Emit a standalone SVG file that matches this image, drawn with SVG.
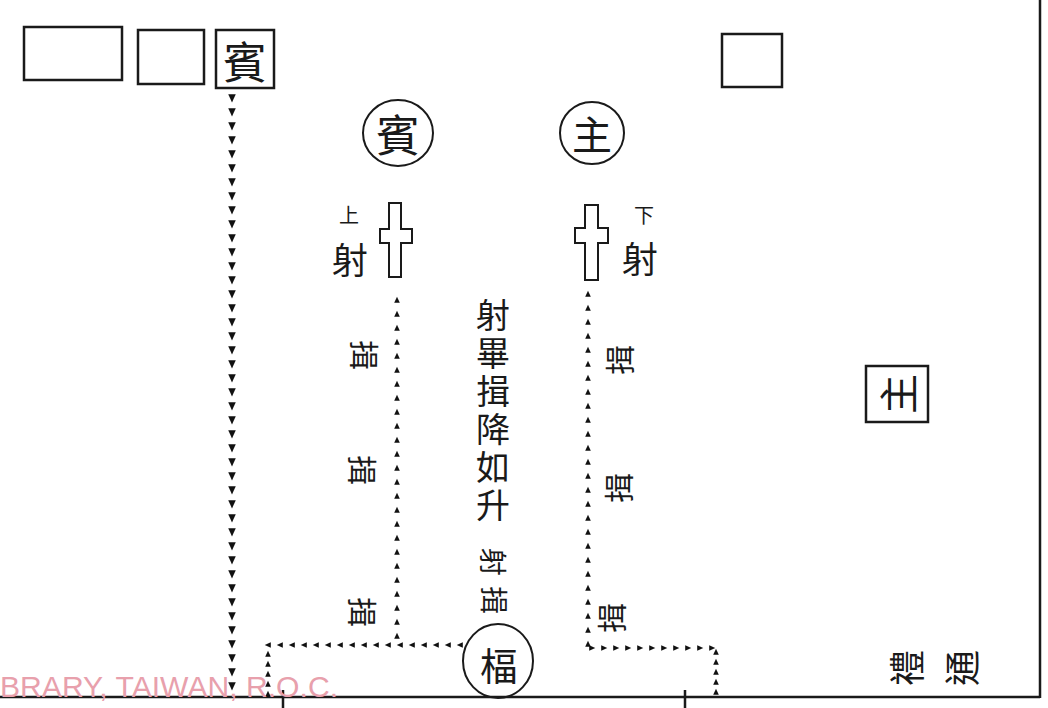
<svg xmlns="http://www.w3.org/2000/svg" width="1048" height="708" viewBox="0 0 1048 708">
<style>
.box{fill:none;stroke:#1a1a1a;stroke-width:2.5}
.ring{fill:none;stroke:#1a1a1a;stroke-width:2}
.ch{font-family:"Noto Sans CJK TC","Noto Sans CJK SC",serif;fill:#1a1a1a;text-anchor:middle;dominant-baseline:central}
.vt{font-family:"Noto Sans CJK TC","Noto Sans CJK SC",serif;fill:#1a1a1a;writing-mode:vertical-rl;text-anchor:start}
.flow{fill:none;stroke:none}
.frame{stroke:#1a1a1a;stroke-width:2.5;fill:none}
</style>
<defs>
<marker id="tri" viewBox="-4 -4 8 8" markerWidth="10" markerHeight="10" markerUnits="userSpaceOnUse" orient="auto"><path d="M-3,-3 L3.5,0 L-3,3 z" fill="#111"/></marker>
<marker id="trs" viewBox="-4 -4 8 8" markerWidth="7.5" markerHeight="7.5" markerUnits="userSpaceOnUse" orient="auto"><path d="M-3,-3 L3.5,0 L-3,3 z" fill="#111"/></marker>
</defs>
<rect width="1048" height="708" fill="#ffffff"/>

<g id="frame">
<path class="frame" d="M1040,0 V698"/>
<path class="frame" d="M0,697 H1040"/>
<path class="frame" stroke-width="1.5" d="M283,690 V708 M685,690 V708"/>
</g>

<g id="box-empty-1"><rect class="box" x="24" y="27" width="98" height="53"/></g>
<g id="box-empty-2"><rect class="box" x="138" y="30" width="66" height="54"/></g>
<g id="box-bin"><rect class="box" x="216" y="30" width="58" height="58"/><text class="ch" x="245" y="60" font-size="44">賓</text></g>
<g id="box-empty-3"><rect class="box" x="722" y="34" width="60" height="53"/></g>

<g id="circle-bin"><ellipse class="ring" cx="398" cy="133" rx="35" ry="33"/><text class="ch" x="398" y="133" font-size="44">賓</text></g>
<g id="circle-zhu"><ellipse class="ring" cx="592" cy="133" rx="32" ry="31"/><text class="ch" x="592" y="133" font-size="40">主</text></g>

<g id="cross-left"><path class="ring" d="M389,203 H401 V229 H412 V243 H401 V277 H389 V243 H380 V229 H389 Z"/></g>
<g id="cross-right"><path class="ring" d="M585,205 H598 V228 H608 V243 H598 V280 H585 V243 H575 V228 H585 Z"/></g>

<g id="label-shangshe"><text class="ch" x="349" y="214" font-size="20">上</text><text class="ch" x="350" y="258" font-size="36">射</text></g>
<g id="label-xiashe"><text class="ch" x="644" y="214" font-size="20">下</text><text class="ch" x="640" y="257" font-size="36">射</text></g>

<g id="yi-left">
<text class="ch" font-size="30" transform="translate(366,355) rotate(90)">揖</text>
<text class="ch" font-size="30" transform="translate(364,470) rotate(90)">揖</text>
<text class="ch" font-size="30" transform="translate(364,612) rotate(90)">揖</text>
</g>
<g id="yi-right">
<text class="ch" font-size="30" transform="translate(618,360) rotate(-90)">揖</text>
<text class="ch" font-size="30" transform="translate(617,488) rotate(-90)">揖</text>
<text class="ch" font-size="30" transform="translate(610,618) rotate(-90)">揖</text>
</g>

<g id="center-note">
<text class="vt" x="493" y="298" font-size="34" letter-spacing="4">射畢揖降如升</text>
</g>
<g id="center-small">
<text class="ch" font-size="28" transform="translate(494,562) rotate(90)">射</text>
<text class="ch" font-size="28" transform="translate(495,600) rotate(90)">揖</text>
</g>
<g id="circle-fu"><ellipse class="ring" cx="498" cy="661" rx="35" ry="37"/><text class="ch" x="499" y="663" font-size="38">楅</text></g>

<g id="box-zhu"><rect class="box" x="866" y="366" width="62" height="56"/><text class="ch" font-size="40" transform="translate(897,394) rotate(-90)">主</text></g>

<g id="note-br">
<text class="ch" font-size="36" transform="translate(960,668) rotate(-90)">通</text>
<text class="ch" font-size="36" transform="translate(905,668) rotate(-90)">禮</text>
</g>

<g id="connectors">
<path class="flow" marker-start="url(#tri)" marker-mid="url(#tri)" marker-end="url(#tri)" d="M232,98 v14 v14 v14 v14 v14 v14 v14 v14 v14 v14 v14 v14 v14 v14 v14 v14 v14 v14 v14 v14 v14 v14 v14 v14 v14 v14 v14 v14 v14 v14 v14 v14 v14 v14 v14 v14 v14 v14 v14 v14 v14 v14"/>
<path class="flow" marker-start="url(#trs)" marker-mid="url(#trs)" marker-end="url(#trs)" d="M397,636 v-14 v-14 v-14 v-14 v-14 v-14 v-14 v-14 v-14 v-14 v-14 v-14 v-14 v-14 v-14 v-14 v-14 v-14 v-14 v-14 v-14 v-14 v-14 v-14"/>
<path class="flow" marker-start="url(#trs)" marker-mid="url(#trs)" marker-end="url(#trs)" d="M460,645 h-12 h-12 h-12 h-12 h-12 h-12 h-12 h-12 h-12 h-12 h-12 h-12 h-12 h-12 h-12 h-12"/>
<path class="flow" marker-start="url(#trs)" marker-mid="url(#trs)" marker-end="url(#trs)" d="M268,694 v-10 v-10 v-10 v-10"/>
<path class="flow" marker-start="url(#trs)" marker-mid="url(#trs)" marker-end="url(#trs)" d="M588,644 v-14 v-14 v-14 v-14 v-14 v-14 v-14 v-14 v-14 v-14 v-14 v-14 v-14 v-14 v-14 v-14 v-14 v-14 v-14 v-14 v-14 v-14 v-14 v-14 v-14"/>
<path class="flow" marker-start="url(#trs)" marker-mid="url(#trs)" marker-end="url(#trs)" d="M592,648 h12 h12 h12 h12 h12 h12 h12 h12 h12 h12"/>
<path class="flow" marker-start="url(#trs)" marker-mid="url(#trs)" marker-end="url(#trs)" d="M716,692 v-10 v-10 v-10 v-10"/>
</g>

<g id="watermark"><text x="0" y="697" font-family="Liberation Sans, Arial, sans-serif" font-size="29" fill="#e8a0ac" textLength="338" lengthAdjust="spacingAndGlyphs">BRARY, TAIWAN, R.O.C.</text></g>
</svg>
